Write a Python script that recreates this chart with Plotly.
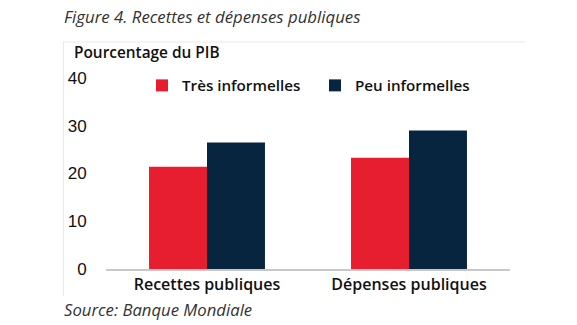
import plotly.graph_objects as go

categories = ["Recettes publiques", "Dépenses publiques"]
series_names = ["Très informelles", "Peu informelles"]
tres_informelles = [21.4, 23.3]
peu_informelles = [26.5, 29.0]
y_ticks = [0, 10, 20, 30, 40]

RED = "#E71D30"
NAVY = "#08253F"

fig = go.Figure()
fig.add_trace(go.Bar(x=categories, y=tres_informelles, name=series_names[0],
                     marker=dict(color=RED, line=dict(width=0))))
fig.add_trace(go.Bar(x=categories, y=peu_informelles, name=series_names[1],
                     marker=dict(color=NAVY, line=dict(width=0))))

L, R, T, B = 106, 67, 78, 56
W, H = 577, 325
pw, ph = W - L - R, H - T - B

def px(x):
    return (x - L) / pw

def py(y):
    return (H - B - y) / ph

fig.update_layout(
    width=W, height=H,
    margin=dict(l=L, r=R, t=T, b=B, pad=0, autoexpand=False),
    paper_bgcolor="white", plot_bgcolor="white",
    barmode="group", bargap=0.426, bargroupgap=0,
    showlegend=True,
    legend=dict(orientation="h", x=px(142), y=py(69), xanchor="left", yanchor="top",
                font=dict(family="Open Sans", size=15.2, color="#111111", weight=600),
                bgcolor="rgba(0,0,0,0)", itemwidth=30, entrywidth=128, tracegroupgap=0),
    xaxis=dict(showline=True, linecolor="#C8C8C8", linewidth=2, ticks="",
               tickfont=dict(family="Open Sans", size=16, color="#111111", weight=600),
               showgrid=False, zeroline=False),
    yaxis=dict(range=[0, 40], tickvals=y_ticks, showgrid=False, zeroline=False,
               showline=False, ticks="outside", ticklen=15, tickcolor="rgba(0,0,0,0)",
               tickfont=dict(family="Liberation Sans", size=17, color="#111111")),
    font=dict(family="Open Sans"),
)

# frame lines
fig.add_shape(type="line", xref="paper", yref="paper", x0=px(63), x1=px(525), y0=py(42), y1=py(42),
              line=dict(color="#EAEAEA", width=1))
fig.add_shape(type="line", xref="paper", yref="paper", x0=px(63.5), x1=px(63.5), y0=py(42), y1=py(296),
              line=dict(color="#EAEAEA", width=1))

fig.add_annotation(text="<i>Figure 4. Recettes et dépenses publiques</i>", xref="paper", yref="paper",
                   x=px(62), y=py(17), xanchor="left", yanchor="middle", showarrow=False,
                   font=dict(family="Open Sans", size=16.8, color="#333333"))
fig.add_annotation(text="Pourcentage du PIB", xref="paper", yref="paper",
                   x=px(72), y=py(53), xanchor="left", yanchor="middle", showarrow=False,
                   font=dict(family="Open Sans", size=15.4, color="#111111", weight=600))
fig.add_annotation(text="<i>Source: Banque Mondiale</i>", xref="paper", yref="paper",
                   x=px(62), y=py(309), xanchor="left", yanchor="middle", showarrow=False,
                   font=dict(family="Open Sans", size=16.7, color="#333333"))

fig.write_html("out.html")
